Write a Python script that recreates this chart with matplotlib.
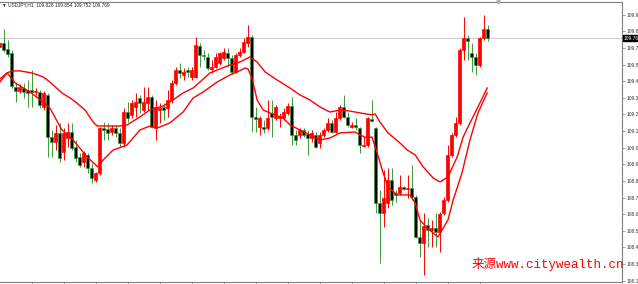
import numpy as np
import matplotlib.pyplot as plt
from matplotlib.transforms import blended_transform_factory

# USDJPY H1 candles (oldest first)
opens = [
    109.711, 109.737, 109.698, 109.672, 109.451, 109.425, 109.444, 109.431, 109.431, 109.418,
    109.418, 109.321, 109.399, 109.126, 109.093, 109.152, 109.028, 109.119, 109.158, 109.061,
    108.996, 108.963, 109.009, 108.924, 108.846, 108.892, 109.184, 109.178, 109.158, 109.184,
    109.152, 109.087, 109.288, 109.269, 109.321, 109.379, 109.301, 109.347, 109.386, 109.184,
    109.301, 109.321, 109.314, 109.366, 109.477, 109.561, 109.529, 109.561, 109.516, 109.516,
    109.717, 109.659, 109.646, 109.568, 109.581, 109.607, 109.639, 109.672, 109.639, 109.548,
    109.659, 109.678, 109.737, 109.776, 109.256, 109.191, 109.191, 109.184, 109.282, 109.249,
    109.249, 109.249, 109.282, 109.327, 109.139, 109.139, 109.171, 109.145, 109.119, 109.139,
    109.087, 109.139, 109.171, 109.217, 109.158, 109.249, 109.321, 109.256, 109.191, 109.204,
    109.184, 109.067, 109.074, 109.243, 109.184, 108.697, 108.632, 108.697, 108.846, 108.762,
    108.762, 108.801, 108.788, 108.794, 108.736, 108.476, 108.437, 108.554, 108.521, 108.534,
    108.508, 108.632, 108.716, 109.009, 109.139, 109.217, 109.691, 109.769, 109.672, 109.646,
    109.594, 109.769, 109.828]
highs = [
    109.743, 109.828, 109.756, 109.691, 109.483, 109.470, 109.477, 109.496, 109.561, 109.444,
    109.431, 109.425, 109.412, 109.171, 109.204, 109.217, 109.184, 109.217, 109.217, 109.106,
    109.022, 109.035, 109.022, 108.957, 108.898, 109.191, 109.223, 109.217, 109.204, 109.204,
    109.184, 109.314, 109.353, 109.366, 109.412, 109.399, 109.451, 109.451, 109.399, 109.366,
    109.347, 109.347, 109.431, 109.496, 109.581, 109.607, 109.574, 109.581, 109.581, 109.776,
    109.737, 109.691, 109.672, 109.626, 109.672, 109.678, 109.704, 109.704, 109.659, 109.672,
    109.704, 109.769, 109.854, 109.789, 109.321, 109.262, 109.236, 109.366, 109.366, 109.334,
    109.282, 109.314, 109.347, 109.386, 109.171, 109.184, 109.184, 109.171, 109.171, 109.158,
    109.158, 109.184, 109.249, 109.236, 109.288, 109.334, 109.399, 109.288, 109.223, 109.249,
    109.191, 109.126, 109.256, 109.366, 109.191, 108.781, 108.911, 108.924, 108.924, 108.781,
    108.879, 108.807, 108.879, 108.944, 108.749, 108.586, 108.632, 108.599, 108.586, 108.632,
    108.638, 108.736, 109.074, 109.152, 109.256, 109.704, 109.906, 109.789, 109.737, 109.672,
    109.776, 109.919, 109.854]
lows = [
    109.704, 109.678, 109.646, 109.444, 109.353, 109.412, 109.379, 109.321, 109.321, 109.399,
    109.314, 109.301, 108.996, 108.996, 109.041, 108.963, 108.976, 109.061, 109.041, 108.963,
    108.931, 108.931, 108.892, 108.827, 108.833, 108.879, 109.106, 109.106, 109.139, 109.126,
    109.061, 109.061, 109.223, 109.249, 109.256, 109.282, 109.288, 109.301, 109.184, 109.106,
    109.217, 109.236, 109.256, 109.347, 109.464, 109.509, 109.496, 109.516, 109.496, 109.509,
    109.581, 109.626, 109.561, 109.542, 109.574, 109.594, 109.626, 109.581, 109.535, 109.542,
    109.646, 109.672, 109.711, 109.158, 109.158, 109.139, 109.152, 109.171, 109.126, 109.236,
    109.191, 109.236, 109.269, 109.074, 109.074, 109.119, 109.126, 109.009, 109.093, 109.054,
    109.054, 109.126, 109.158, 109.152, 109.152, 109.236, 109.249, 109.191, 109.184, 109.171,
    109.022, 109.061, 109.061, 109.223, 108.632, 108.307, 108.541, 108.664, 108.684, 108.703,
    108.749, 108.781, 108.729, 108.716, 108.469, 108.346, 108.229, 108.411, 108.411, 108.411,
    108.378, 108.619, 108.703, 108.996, 109.126, 109.204, 109.626, 109.626, 109.548, 109.529,
    109.581, 109.756, 109.752]
closes = [
    109.737, 109.691, 109.665, 109.457, 109.425, 109.451, 109.418, 109.412, 109.418, 109.425,
    109.334, 109.412, 109.126, 109.093, 109.152, 108.989, 109.152, 109.158, 109.054, 108.989,
    108.944, 109.022, 108.924, 108.859, 108.892, 109.184, 109.171, 109.152, 109.184, 109.152,
    109.087, 109.288, 109.249, 109.347, 109.353, 109.347, 109.353, 109.386, 109.191, 109.321,
    109.314, 109.301, 109.366, 109.477, 109.561, 109.542, 109.548, 109.548, 109.561, 109.724,
    109.659, 109.652, 109.574, 109.581, 109.646, 109.672, 109.678, 109.639, 109.548, 109.659,
    109.678, 109.743, 109.776, 109.256, 109.243, 109.249, 109.178, 109.249, 109.256, 109.321,
    109.262, 109.288, 109.327, 109.139, 109.106, 109.171, 109.139, 109.119, 109.152, 109.061,
    109.139, 109.171, 109.217, 109.158, 109.249, 109.321, 109.256, 109.204, 109.204, 109.191,
    109.074, 109.074, 109.249, 109.230, 108.697, 108.632, 108.729, 108.846, 108.716, 108.749,
    108.801, 108.788, 108.794, 108.736, 108.476, 108.437, 108.547, 108.521, 108.534, 108.508,
    108.625, 108.716, 109.009, 109.139, 109.217, 109.691, 109.769, 109.750, 109.646, 109.594,
    109.769, 109.828, 109.769]

# the two moving averages, sampled along the bars
slow_bar = [0.1, 1.9, 3.1, 5.1, 8.1, 10.9, 12.6, 15.6, 18.4, 21.4, 23.4, 24.4, 30.1, 31.9,
            35.1, 37.6, 40.9, 42.6, 45.9, 48.4, 50.1, 52.6, 55.1, 57.6, 60.1, 62.6, 64.4,
            66.4, 69.4, 72.6, 75.1, 77.6, 80.1, 82.6, 85.1, 87.6, 90.1, 93.1, 93.9, 95.1,
            97.1, 100.1, 101.9, 103.9, 105.9, 108.4, 110.1, 112.1, 114.4, 115.9, 117.6,
            119.6, 121.9]
slow_ma = [109.503, 109.542, 109.555, 109.555, 109.542, 109.516, 109.483, 109.412, 109.366,
           109.301, 109.223, 109.197, 109.197, 109.204, 109.256, 109.301, 109.327, 109.353,
           109.412, 109.444, 109.483, 109.542, 109.568, 109.594, 109.613, 109.646, 109.613,
           109.548, 109.496, 109.444, 109.399, 109.366, 109.321, 109.288, 109.301, 109.294,
           109.282, 109.269, 109.275, 109.223, 109.152, 109.087, 109.041, 109.009, 108.931,
           108.859, 108.833, 108.866, 108.996, 109.126, 109.217, 109.321, 109.444]
fast_bar = [0.1, 1.9, 3.9, 7.6, 10.9, 12.6, 15.6, 18.4, 21.9, 24.6, 25.9, 28.4, 30.6, 31.9,
            35.1, 37.6, 39.4, 42.6, 45.9, 48.4, 50.9, 54.4, 57.6, 59.4, 61.4, 62.1, 63.1,
            64.4, 65.9, 67.6, 70.9, 72.6, 75.1, 77.6, 80.1, 82.6, 85.1, 88.9, 90.1, 91.9,
            93.1, 94.4, 95.9, 97.1, 99.4, 102.6, 103.9, 105.1, 106.9, 109.6, 112.1, 113.4,
            115.6, 117.6, 119.6, 121.9]
fast_ma = [109.483, 109.542, 109.477, 109.418, 109.353, 109.314, 109.171, 109.106, 108.996,
           108.931, 108.976, 109.041, 109.061, 109.074, 109.171, 109.197, 109.184, 109.217,
           109.288, 109.379, 109.418, 109.483, 109.529, 109.548, 109.574, 109.568, 109.509,
           109.366, 109.301, 109.282, 109.249, 109.204, 109.171, 109.139, 109.106, 109.119,
           109.152, 109.158, 109.139, 109.119, 109.126, 109.022, 108.892, 108.801, 108.749,
           108.749, 108.697, 108.586, 108.534, 108.476, 108.586, 108.716, 108.892, 109.106,
           109.282, 109.412]

price_ticks = [109.920, 109.812, 109.704, 109.596, 109.488, 109.380, 109.272, 109.164,
               109.056, 108.948, 108.840, 108.732, 108.624, 108.516, 108.408, 108.300, 108.192]
time_ticks = list(range(8, 121, 8))
symbol = 'USDJPY,H1'
watermark = '来源www.citywealth.cn'

UP = '#ff0000'
DOWN_EDGE = '#3a9a3a'


def draw_candles(ax):
    for i in range(len(opens)):
        o, h, l, c = opens[i], highs[i], lows[i], closes[i]
        if c >= o:
            face, edge = UP, UP
        else:
            face, edge = 'black', DOWN_EDGE
        ax.vlines(i, l, h, color=edge, lw=0.7, zorder=2)
        body = max(abs(c - o), 0.004)
        ax.bar(i, body, bottom=min(o, c), width=0.7, color=face,
               edgecolor=edge, linewidth=0.5, zorder=2.5)


fig = plt.figure(figsize=(6.38, 2.84), dpi=100)
ax = fig.add_axes([0, 2 / 284, 622 / 638, 280 / 284])

draw_candles(ax)
ax.plot(slow_bar, slow_ma, color='#ff0000', lw=1.0, zorder=3)
ax.plot(fast_bar, fast_ma, color='#ff0000', lw=1.0, zorder=3)

# current price line and label
last = closes[-1]
ax.axhline(last, color='#cfcfcf', lw=0.8, zorder=0.5)
trans = blended_transform_factory(ax.transAxes, ax.transData)
ax.text(1.003, last, '%.3f' % last, transform=trans, fontsize=3.5, color='white',
        va='center', ha='left', family='Liberation Sans',
        bbox=dict(facecolor='black', edgecolor='black', pad=0.6))

ax.set_xlim(0.125, 155.6)
ax.set_ylim(108.183, 110.003)

ax.yaxis.tick_right()
ax.set_yticks(price_ticks)
ax.set_yticklabels(['%.3f' % t for t in price_ticks], fontsize=3.5, color='#333333',
                   family='Liberation Sans')
ax.tick_params(axis='y', length=2, width=0.5, pad=1.2, color='#808080')
ax.set_xticks(time_ticks)
ax.set_xticklabels([])
ax.tick_params(axis='x', length=2, width=0.5, color='#808080')

ax.spines['left'].set_visible(False)
for s in ['top', 'right', 'bottom']:
    ax.spines[s].set_color('#808080')
    ax.spines[s].set_linewidth(0.8)

# chart shift marker at the top
ax.plot([124.5], [110.003], marker='v', markersize=2.5, color='#b0b0b0',
        clip_on=False, zorder=4)

ax.text(0.004, 0.989, '\u25bc %s  %.3f %.3f %.3f %.3f' % (symbol, opens[-1], highs[-1], lows[-1], closes[-1]),
        transform=ax.transAxes, fontsize=3.4, va='center', ha='left', color='#222222',
        family='Liberation Sans')

ax.text(472 / 622, 0.05, watermark, transform=ax.transAxes, fontsize=9, color='red',
        va='baseline', ha='left', family=['Liberation Mono', 'Noto Sans CJK SC'])

fig.savefig('out.png', dpi=100)
